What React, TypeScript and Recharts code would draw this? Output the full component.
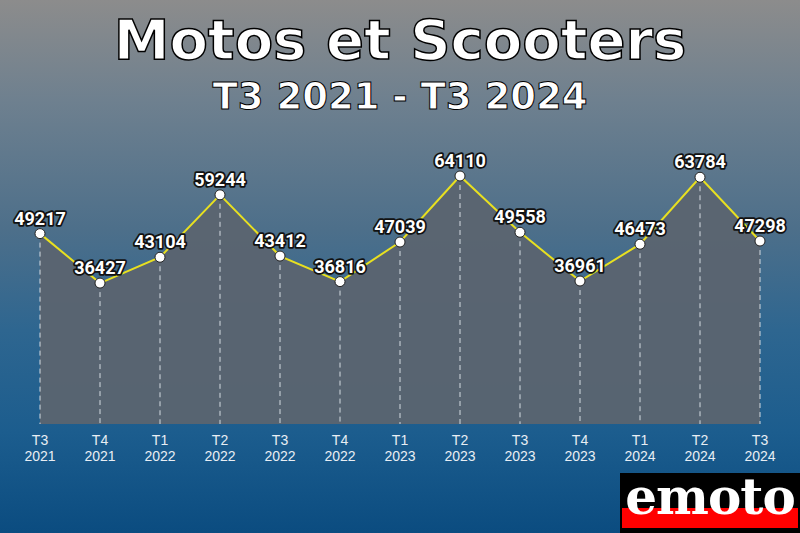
import { AreaChart, Area, XAxis, YAxis, LabelList } from "recharts";

const quarters = ["T3", "T4", "T1", "T2", "T3", "T4", "T1", "T2", "T3", "T4", "T1", "T2", "T3"];
const years = ["2021", "2021", "2022", "2022", "2022", "2022", "2023", "2023", "2023", "2023", "2024", "2024", "2024"];
const sales = [49217, 36427, 43104, 59244, 43412, 36816, 47039, 64110, 49558, 36961, 46473, 63784, 47298];

const data = sales.map((v, i) => ({ key: `${quarters[i]} ${years[i]}`, q: quarters[i], y: years[i], value: v }));

const W = 800;
const H = 533;
const TOP = 176;
const BOTTOM = 109;
const BASE = H - BOTTOM;

const outline = { paintOrder: "stroke" as const, stroke: "#111", strokeWidth: 3.5, strokeLinejoin: "round" as const };

function Dot(props: any) {
  const { cx, cy } = props;
  if (cx == null || cy == null) return null;
  return (
    <g>
      <line x1={cx} x2={cx} y1={cy} y2={BASE} stroke="#d4dbe2" strokeWidth={1} strokeDasharray="5 4" />
      <circle cx={cx} cy={cy} r={5} fill="#fff" stroke="#222" strokeWidth={1} />
    </g>
  );
}

function Tick(props: any) {
  const { x, y, payload } = props;
  const d = data[payload.index] || data.find(r => r.key === payload.value);
  return (
    <text x={x} y={y} textAnchor="middle" fill="#e8eef4" fontSize={14} fontFamily="'Liberation Sans', Arial, sans-serif">
      <tspan x={x} dy={13}>{d?.q}</tspan>
      <tspan x={x} dy={16}>{d?.y}</tspan>
    </text>
  );
}

export default function App() {
  return (
    <div
      style={{
        position: "absolute", left: 0, top: 0, width: W, height: H, overflow: "hidden",
        background: "linear-gradient(to bottom, #8c8c8c 0%, #6e808f 19%, #4d6f8a 43%, #2e6690 62%, #1c5d8e 81%, #0b4c80 100%)",
      }}
    >
      <div
        style={{
          position: "absolute", top: 5, width: W, textAlign: "center", color: "#fff",
          fontFamily: "'DejaVu Sans', sans-serif", fontWeight: "bold", fontSize: 56, lineHeight: "70px",
          WebkitTextStroke: "1.5px #000",
        }}
      >
        Motos et Scooters
      </div>
      <div
        style={{
          position: "absolute", top: 75, width: W, textAlign: "center", color: "#fff",
          fontFamily: "'DejaVu Sans', sans-serif", fontWeight: "bold", fontSize: 37, lineHeight: "44px",
          WebkitTextStroke: "1px #000",
        }}
      >
        T3 2021 - T3 2024
      </div>
      <div style={{ position: "absolute", left: 0, top: 0 }}>
        <AreaChart width={W} height={H} data={data} margin={{ top: TOP, bottom: 0, left: 40, right: 40 }}>
          <XAxis dataKey="key" axisLine={false} tickLine={false} interval={0} tick={<Tick />} height={BOTTOM} />
          <YAxis hide domain={[0, "dataMax"]} />
          <Area
            type="linear"
            dataKey="value"
            stroke="#e8e020"
            strokeWidth={2}
            fill="#5b6470"
            fillOpacity={0.95}
            dot={<Dot />}
            activeDot={false}
            isAnimationActive={false}
          >
            <LabelList
              dataKey="value"
              position="top"
              offset={9}
              fill="#fff"
              fontSize={18}
              fontWeight="bold"
              fontFamily="Roboto, sans-serif"
              style={outline}
            />
          </Area>
        </AreaChart>
      </div>
      <div style={{ position: "absolute", left: 620, top: 473, width: 180, height: 60, background: "#000" }}>
        <div style={{ position: "absolute", left: 2, top: 35, width: 176, height: 20, background: "#ff0000" }} />
        <div
          style={{
            position: "absolute", left: 0, top: -6, width: 180, textAlign: "center", color: "#fff",
            fontFamily: "'DejaVu Serif', serif", fontWeight: "bold", fontSize: 50, lineHeight: "60px",
            letterSpacing: -1,
          }}
        >
          emoto
        </div>
      </div>
    </div>
  );
}
